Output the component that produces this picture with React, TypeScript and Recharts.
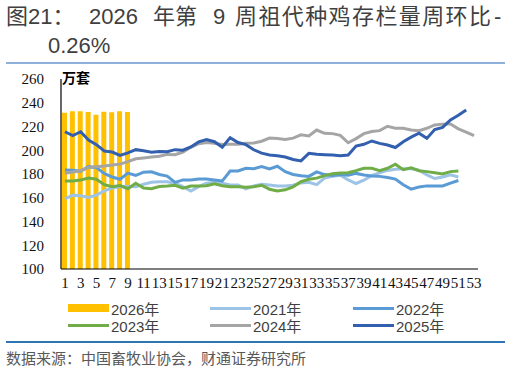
import React from "react";
import { ComposedChart, Bar, Line, XAxis, YAxis } from "recharts";

// 周次 1-53
const weeks = [
  1, 2, 3, 4, 5, 6, 7, 8, 9, 10, 11, 12, 13, 14, 15, 16, 17, 18, 19, 20,
  21, 22, 23, 24, 25, 26, 27, 28, 29, 30, 31, 32, 33, 34, 35, 36, 37, 38, 39, 40,
  41, 42, 43, 44, 45, 46, 47, 48, 49, 50, 51, 52, 53,
];

// 祖代种鸡存栏量（万套）
const stock2026 = [231.6, 232.8, 232.8, 232.2, 229.9, 232.4, 231.9, 232.8, 232.2];

const stock2021 = [
  159, 162.2, 161.6, 160.2, 162.2, 165.8, 168.2, 169.3, 169.6, 169.3,
  171.4, 173.1, 173.5, 173.5, 172.2, 169.3, 165.7, 169.3, 172.2, 173,
  172.2, 170.7, 170.7, 167.4, 169.9, 171.3, 170.7, 170, 170, 170.5,
  172.5, 173, 171, 176.5, 178, 179, 175, 172, 174.8, 178.8,
  181, 183, 184, 184.4, 184.5, 183.2, 179.2, 176.2, 177.4, 179.4, 177.5,
];

const stock2022 = [
  183.4, 183.2, 182.4, 186.2, 185.4, 180.4, 177.5, 175.6, 180.8, 178.8,
  181.5, 181.8, 179.6, 178.2, 173, 175, 175, 175.8, 175.8, 175,
  174.2, 182.5, 182.5, 184.8, 184.4, 186.3, 184.3, 186.5, 182, 179.6,
  178.5, 178, 181.8, 179.5, 178.8, 179.5, 179, 180.5, 179.2, 178.4,
  178, 177, 175.7, 171, 167.3, 169, 170, 170, 170, 172.3, 174.5,
];

const stock2023 = [
  174.2, 174.1, 175, 176.6, 175.6, 171, 169.3, 170.3, 167.6, 172.2,
  168.2, 167.6, 169.5, 169.9, 170.5, 168, 169.8, 169.8, 170.1, 171.8,
  170.1, 169.3, 169.2, 168.8, 169.3, 170.5, 167.2, 165.8, 166.7, 169.2,
  173.5, 175.6, 176.5, 178.6, 180.3, 180.8, 181, 182.8, 184.8, 184.8,
  182.8, 184.8, 188.2, 183.6, 185.3, 182.8, 182, 181.1, 180, 182, 182.5,
];

const stock2024 = [
  180.6, 181.7, 182.8, 185.5, 186.2, 186.7, 187.6, 188.3, 190.4, 192.8,
  193.5, 194.3, 195, 196.5, 196.2, 198.5, 202.5, 205.5, 206.5, 205.8,
  204.8, 205, 205, 205.8, 206.2, 207.6, 210.3, 209.8, 209, 210.2,
  213, 212, 217, 214.3, 214, 212.5, 206.3, 209.8, 214, 215.8,
  216.5, 220.2, 218.5, 218.5, 217, 216.5, 218.5, 221.3, 222, 222.1,
  218, 215.3, 212.3,
];

const stock2025 = [
  215.6, 212.3, 215.6, 208.6, 204.7, 199.4, 198.5, 195.7, 197.8, 200.5,
  199.5, 198.4, 199, 198.8, 200.5, 200, 202.8, 207, 209, 207.2,
  202.6, 210.6, 206.5, 204.7, 200.4, 197.6, 196, 195.4, 194.3, 192.2,
  191, 197.4, 196.6, 196.3, 196, 195.4, 196, 203.5, 205, 207.8,
  205.8, 204.4, 202.3, 207.2, 211, 214.3, 210, 217.5, 219.3, 225.5,
  229.4, 233.9,
];

const yTicks = [100, 120, 140, 160, 180, 200, 220, 240, 260];

const data = weeks.map((week, i) => ({
  week,
  y2026: stock2026[i],
  y2021: stock2021[i],
  y2022: stock2022[i],
  y2023: stock2023[i],
  y2024: stock2024[i],
  y2025: stock2025[i],
}));

const lines = [
  { key: "y2021", name: "2021年", color: "#9DC3E6" },
  { key: "y2022", name: "2022年", color: "#5B9BD5" },
  { key: "y2023", name: "2023年", color: "#70AD47" },
  { key: "y2024", name: "2024年", color: "#A5A5A5" },
  { key: "y2025", name: "2025年", color: "#3260AE" },
];

const legendRows = [
  [
    { name: "2026年", color: "#FFC000", bar: true },
    { name: "2021年", color: "#9DC3E6" },
    { name: "2022年", color: "#5B9BD5" },
  ],
  [
    { name: "2023年", color: "#70AD47" },
    { name: "2024年", color: "#A5A5A5" },
    { name: "2025年", color: "#3260AE" },
  ],
];
const legendCols = [68, 210, 353];

const sans = "'Liberation Sans', 'Noto Sans CJK SC', sans-serif";
const serif = "'Liberation Serif', 'DejaVu Serif', serif";

export default function App() {
  const seg = (w: number): React.CSSProperties => ({ display: "inline-block", width: w });
  return (
    <div
      style={{
        position: "absolute",
        left: 0,
        top: 0,
        width: 510,
        height: 372,
        background: "#fff",
        fontFamily: sans,
        color: "#3F3F3F",
        overflow: "hidden",
      }}
    >
      <div style={{ position: "absolute", left: 6, top: 6, fontSize: 22, lineHeight: "22px", whiteSpace: "nowrap" }}>
        <span style={seg(83)}>图21：</span>
        <span style={seg(64)}>2026</span>
        <span style={seg(60)}>年第</span>
        <span style={seg(22)}>9</span>
        <span style={{ ...seg(259), letterSpacing: 1.4 }}>周祖代种鸡存栏量周环比</span>
        <span>-</span>
      </div>
      <div style={{ position: "absolute", left: 48, top: 35, fontSize: 22, lineHeight: "22px" }}>0.26%</div>
      <div style={{ position: "absolute", left: 6, top: 62, width: 499, height: 2, background: "#8FB0DA" }} />

      {/* axis tick text inherits this serif face */}
      <div style={{ position: "absolute", left: 0, top: 60, fontFamily: serif }}>
        <ComposedChart width={510} height={233} data={data} margin={{ top: 19, right: 32, bottom: 0, left: 0 }}>
          <XAxis
            dataKey="week"
            interval={1}
            tickLine={false}
            axisLine={{ stroke: "#000", strokeWidth: 1.2 }}
            tick={{ fontFamily: serif, fontSize: 15, fill: "#111" }}
            height={24}
          />
          <YAxis
            domain={[100, 260]}
            ticks={yTicks}
            tickLine={false}
            tickMargin={11}
            axisLine={{ stroke: "#000", strokeWidth: 1.2 }}
            tick={{ fontFamily: serif, fontSize: 15, fill: "#111" }}
            width={61}
          />
          <Bar dataKey="y2026" name="2026年" fill="#FFC000" barSize={5} isAnimationActive={false} />
          {lines.map((s) => (
            <Line
              key={s.key}
              type="linear"
              dataKey={s.key}
              name={s.name}
              stroke={s.color}
              strokeWidth={3}
              dot={false}
              activeDot={false}
              isAnimationActive={false}
            />
          ))}
        </ComposedChart>
      </div>

      <div
        style={{
          position: "absolute",
          left: 62,
          top: 69,
          fontFamily: "'Noto Sans CJK SC', sans-serif",
          fontWeight: 700,
          fontSize: 14,
          lineHeight: "16px",
          color: "#000",
        }}
      >
        万套
      </div>

      {legendRows.map((row, r) =>
        row.map((item, c) => (
          <div
            key={item.name}
            style={{
              position: "absolute",
              left: legendCols[c],
              top: 300 + r * 17,
              height: 16,
              display: "flex",
              alignItems: "center",
              fontSize: 15,
              whiteSpace: "nowrap",
            }}
          >
            <span
              style={{
                display: "inline-block",
                width: 41,
                height: item.bar ? 8 : 3,
                background: item.color,
                marginRight: 2,
              }}
            />
            {item.name}
          </div>
        ))
      )}

      <div style={{ position: "absolute", left: 6, top: 341, width: 499, height: 1.5, background: "#2E75B6" }} />
      <div style={{ position: "absolute", left: 6, top: 351, fontSize: 15, lineHeight: "16px", color: "#595959" }}>
        数据来源：中国畜牧业协会，财通证券研究所
      </div>
    </div>
  );
}
